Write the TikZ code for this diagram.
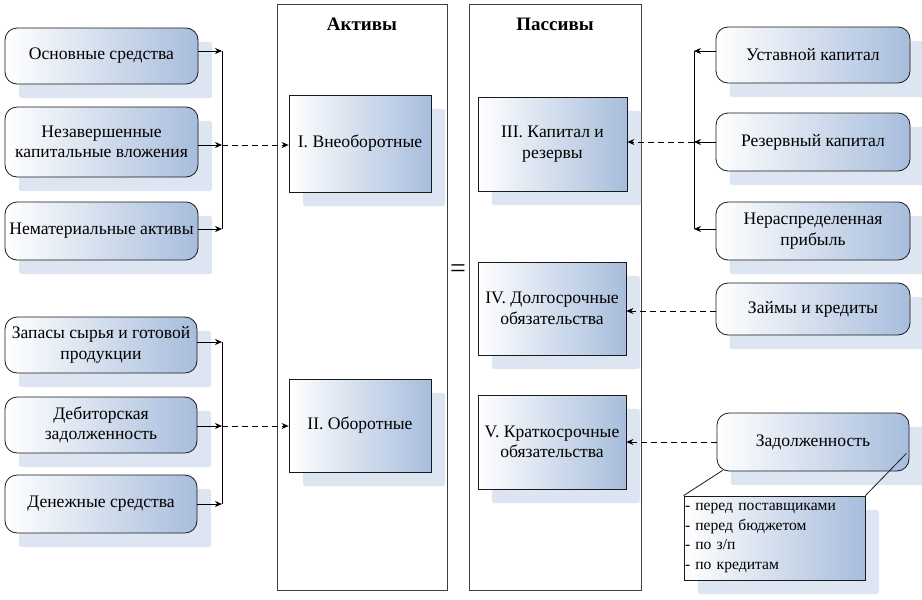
\documentclass[tikz,border=0pt]{standalone}
\usepackage{fontspec}
\setmainfont{Liberation Serif}
\usetikzlibrary{arrows.meta,calc}

\definecolor{boxblue}{HTML}{A7BDDC}
\definecolor{shadowblue}{HTML}{DCE5F1}
\definecolor{edge}{HTML}{1A1A1A}

\tikzset{
  base/.style={draw=edge, line width=0.8pt, align=center, font=\fontsize{17.6}{20.5}\selectfont,
    left color=white, right color=boxblue, inner sep=2pt},
  roundbox/.style={base, rounded corners=12pt},
  squarebox/.style={base},
  column/.style={draw=black!75, line width=0.9pt, fill=white},
  title/.style={font=\bfseries\fontsize{19}{22}\selectfont},
  feed/.style={line width=0.8pt, -{Stealth[length=7pt,width=6pt]}},
  bus/.style={line width=0.8pt},
  link/.style={line width=0.8pt, dash pattern=on 6pt off 4pt, -{Stealth[length=7pt,width=6pt]}},
}

% drop shadow behind a box, offset down and to the right
\newcommand{\boxshadow}[1]{%
  \fill[shadowblue, rounded corners=3pt]
    ($(#1.north west)+(14,14)$) rectangle ($(#1.south east)+(14,14)$);}

\begin{document}
\begin{tikzpicture}[x=1pt,y=-1pt]
\useasboundingbox (0,0) rectangle (922,600);

% balance columns
\node[column, minimum width=170pt, minimum height=586pt] (akt) at (362,297) {};
\node[column, minimum width=172pt, minimum height=586pt] (pas) at (555,297) {};
\node[title] (takt) at (362,24) {Активы};
\node[title] (tpas) at (555,24) {Пассивы};
\node[font=\fontsize{28}{30}\selectfont] (eq) at (458,271) {=};

% box centres
\path
  (101.5,56)  coordinate (p-os)
  (101.5,142) coordinate (p-nz)
  (101.5,231) coordinate (p-nm)
  (101,345)   coordinate (p-zp)
  (101,425)   coordinate (p-db)
  (101,504)   coordinate (p-dn)
  (813,55)    coordinate (p-uk)
  (813,142)   coordinate (p-rk)
  (813,231)   coordinate (p-np)
  (813,309)   coordinate (p-zk)
  (813,442)   coordinate (p-zd)
  (360,143.5) coordinate (p-b1)
  (360,425.5) coordinate (p-b2)
  (552.5,144) coordinate (p-b3)
  (552,308.5) coordinate (p-b4)
  (552,442)   coordinate (p-b5)
  (774.5,538) coordinate (p-cl);

% shadow outlines
\path[draw=none]
  node[minimum width=193pt, minimum height=56pt, inner sep=0pt] (s-os) at (p-os) {}
  node[minimum width=193pt, minimum height=70pt, inner sep=0pt] (s-nz) at (p-nz) {}
  node[minimum width=193pt, minimum height=58pt, inner sep=0pt] (s-nm) at (p-nm) {}
  node[minimum width=192pt, minimum height=56pt, inner sep=0pt] (s-zp) at (p-zp) {}
  node[minimum width=192pt, minimum height=56pt, inner sep=0pt] (s-db) at (p-db) {}
  node[minimum width=192pt, minimum height=58pt, inner sep=0pt] (s-dn) at (p-dn) {}
  node[minimum width=194pt, minimum height=56pt, inner sep=0pt] (s-uk) at (p-uk) {}
  node[minimum width=194pt, minimum height=58pt, inner sep=0pt] (s-rk) at (p-rk) {}
  node[minimum width=194pt, minimum height=58pt, inner sep=0pt] (s-np) at (p-np) {}
  node[minimum width=194pt, minimum height=52pt, inner sep=0pt] (s-zk) at (p-zk) {}
  node[minimum width=192pt, minimum height=58pt, inner sep=0pt] (s-zd) at (p-zd) {}
  node[minimum width=142pt, minimum height=97pt, inner sep=0pt] (s-b1) at (p-b1) {}
  node[minimum width=142pt, minimum height=93pt, inner sep=0pt] (s-b2) at (p-b2) {}
  node[minimum width=149pt, minimum height=94pt, inner sep=0pt] (s-b3) at (p-b3) {}
  node[minimum width=148pt, minimum height=93pt, inner sep=0pt] (s-b4) at (p-b4) {}
  node[minimum width=148pt, minimum height=94pt, inner sep=0pt] (s-b5) at (p-b5) {}
  node[minimum width=181pt, minimum height=84pt, inner sep=0pt] (s-cl) at (p-cl) {};
\foreach \s in {os,nz,nm,zp,db,dn,uk,rk,np,zk,zd,b1,b2,b3,b4,b5,cl}{\boxshadow{s-\s}}

% asset sources
\node[roundbox, minimum width=193pt, minimum height=56pt] (os) at (p-os) {Основные средства};
\node[roundbox, minimum width=193pt, minimum height=70pt] (nz) at (p-nz) {Незавершенные\\капитальные вложения};
\node[roundbox, minimum width=193pt, minimum height=58pt] (nm) at (p-nm) {Нематериальные активы};
\node[roundbox, minimum width=192pt, minimum height=56pt] (zp) at (p-zp) {Запасы сырья и готовой\\продукции};
\node[roundbox, minimum width=192pt, minimum height=56pt] (db) at (p-db) {Дебиторская\\задолженность};
\node[roundbox, minimum width=192pt, minimum height=58pt] (dn) at (p-dn) {Денежные средства};

% liability sources
\node[roundbox, minimum width=194pt, minimum height=56pt] (uk) at (p-uk) {Уставной капитал};
\node[roundbox, minimum width=194pt, minimum height=58pt] (rk) at (p-rk) {Резервный капитал};
\node[roundbox, minimum width=194pt, minimum height=58pt] (np) at (p-np) {Нераспределенная\\прибыль};
\node[roundbox, minimum width=194pt, minimum height=52pt] (zk) at (p-zk) {Займы и кредиты};
\node[roundbox, minimum width=192pt, minimum height=58pt] (zd) at (p-zd) {Задолженность};

% balance sections
\node[squarebox, minimum width=142pt, minimum height=97pt] (b1) at (p-b1) {I. Внеоборотные};
\node[squarebox, minimum width=142pt, minimum height=93pt] (b2) at (p-b2) {II. Оборотные};
\node[squarebox, minimum width=149pt, minimum height=94pt] (b3) at (p-b3) {III. Капитал и\\резервы};
\node[squarebox, minimum width=148pt, minimum height=93pt] (b4) at (p-b4) {IV. Долгосрочные\\обязательства};
\node[squarebox, minimum width=148pt, minimum height=94pt] (b5) at (p-b5) {V. Краткосрочные\\обязательства};

% debt breakdown callout
\node[squarebox, minimum width=181pt, minimum height=84pt, align=left, anchor=center,
      font=\fontsize{15.6}{19.5}\selectfont, text width=179pt, inner sep=1pt] (cl) at (p-cl)
  {- перед поставщиками\\- перед бюджетом\\- по з/п\\- по кредитам};
\draw[line width=0.8pt, draw=edge] (cl.north west) -- ($(zd.south west)+(6,-1)$);
\draw[line width=0.8pt, draw=edge] (cl.north east) -- ($(zd.south east)+(-3,-18)$);

% left buses
\coordinate (busA) at (222,145);
\coordinate (busB) at (222,426);
\draw[bus] (222,51) -- (222,229);
\draw[bus] (222,342) -- (222,504);
\draw[feed] (os.east |- 0,51) -- (222,51);
\draw[feed] (nz.east |- 0,145) -- (busA);
\draw[feed] (nm.east |- 0,229) -- (222,229);
\draw[feed] (zp.east |- 0,342) -- (222,342);
\draw[feed] (db.east |- 0,426) -- (busB);
\draw[feed] (dn.east |- 0,504) -- (222,504);
\draw[link] (busA) -- (b1.west |- busA);
\draw[link] (busB) -- (b2.west |- busB);

% right bus
\coordinate (busC) at (694,142);
\draw[bus] (694,51) -- (694,229);
\draw[feed] (uk.west |- 0,51) -- (694,51);
\draw[feed] (rk.west |- busC) -- (busC);
\draw[feed] (np.west |- 0,229) -- (694,229);
\draw[link] (busC) -- (b3.east |- busC);
\draw[link] (zk.west |- 0,311) -- (b4.east |- 0,311);
\draw[link] (zd.west |- 0,442) -- (b5.east |- 0,442);

\end{tikzpicture}
\end{document}
